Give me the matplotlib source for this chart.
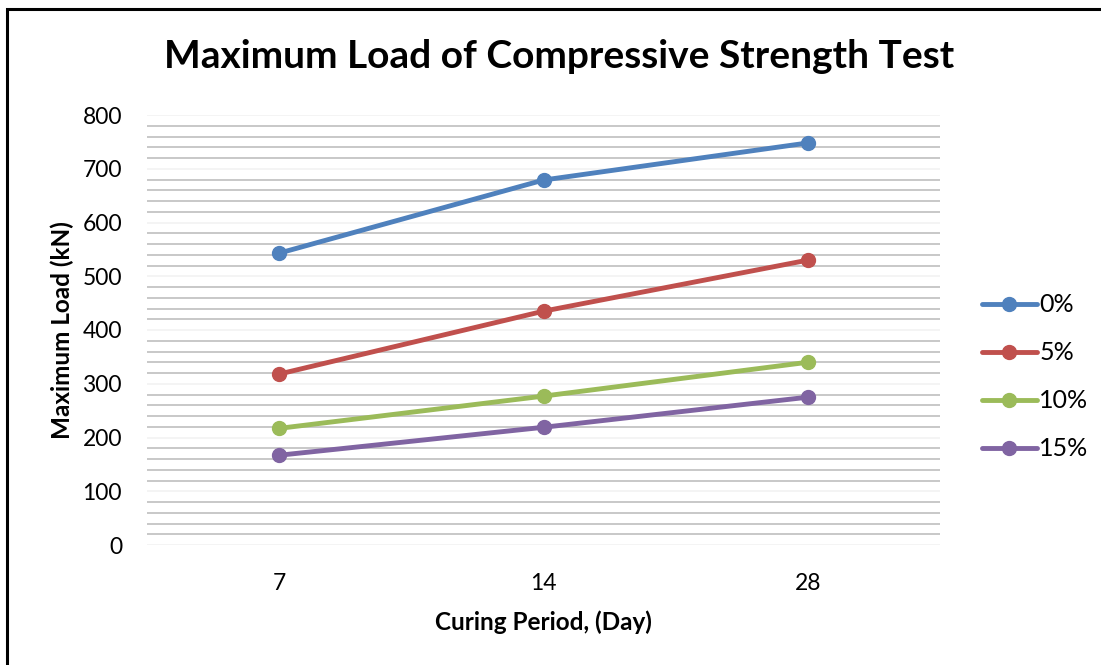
import matplotlib.pyplot as plt
from matplotlib.patches import Rectangle
from matplotlib.ticker import MultipleLocator

plt.rcParams["font.family"] = ["Lato", "DejaVu Sans"]

days = ["7", "14", "28"]
series_labels = ["0%", "5%", "10%", "15%"]
load_0 = [543, 679, 748]
load_5 = [318, 435, 530]
load_10 = [217, 277, 340]
load_15 = [167, 219, 275]
colors = ["#4f81bd", "#c0504d", "#9bbb59", "#8064a2"]

fig = plt.figure(figsize=(11.01, 6.65), dpi=100)
ax = fig.add_axes([147 / 1101, 1 - 545 / 665, (940 - 147) / 1101, (545 - 115) / 665])

x = list(range(len(days)))
for values, label, color in zip([load_0, load_5, load_10, load_15], series_labels, colors):
    ax.plot(x, values, color=color, linewidth=3.5, marker="o", markersize=10,
            solid_capstyle="round", label=label, zorder=3)

ax.set_xlim(-0.5, len(days) - 0.5)
ax.set_ylim(0, 800)
ax.set_xticks(x)
ax.set_xticklabels(days)
ax.yaxis.set_major_locator(MultipleLocator(100))
ax.yaxis.set_minor_locator(MultipleLocator(20))
ax.grid(True, which="minor", axis="y", color="#bfbfbf", linewidth=1.2)
ax.grid(True, which="major", axis="y", color="#f2f2f2", linewidth=1.2)
ax.set_axisbelow(True)
for side in ["top", "right", "left", "bottom"]:
    ax.spines[side].set_visible(False)
ax.tick_params(axis="both", which="both", length=0, labelsize=16.5)
ax.tick_params(axis="y", pad=18)
ax.tick_params(axis="x", pad=20)

ax.set_title("Maximum Load of Compressive Strength Test", fontsize=28,
             fontweight="bold", pad=34, x=0.52)
ax.set_xlabel("Curing Period, (Day)", fontsize=17.5, fontweight="bold", labelpad=12)
ax.set_ylabel("Maximum Load (kN)", fontsize=17.5, fontweight="bold", labelpad=6)

ax.legend(loc="center left", bbox_to_anchor=(1.04, 1 - (377 - 115) / 430), frameon=False,
          fontsize=18, handlelength=2.2, handletextpad=0.1, labelspacing=1.0,
          borderaxespad=0)

# chart frame: dark outline along the left and top edges
fig.patches.append(Rectangle((7 / 1101, -0.05), 1.2, 1 - 9.5 / 665 + 0.05,
                             transform=fig.transFigure, fill=False,
                             edgecolor="black", linewidth=2.2))

fig.savefig("out.png", dpi=100)
